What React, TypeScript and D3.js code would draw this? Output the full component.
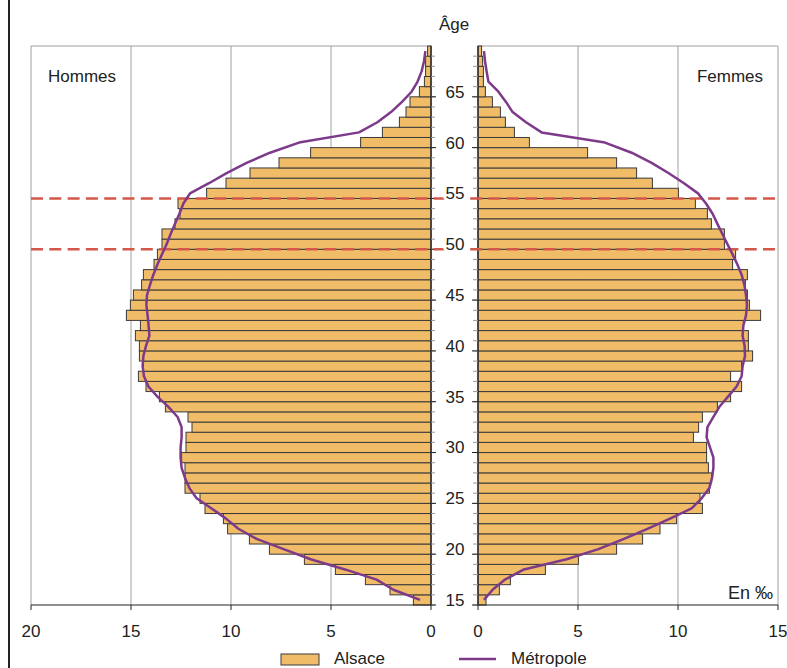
import React from "react";
import * as d3 from "d3";

const ages: number[] = d3.range(15, 70);

const hommesAlsace: number[] = [
  0.88, 2.05, 3.28, 4.78, 6.33, 8.08, 9.08, 10.17, 10.38, 11.3,
  11.55, 12.3, 12.3, 12.3, 12.47, 12.25, 12.25, 11.95, 12.15, 13.28,
  13.58, 14.25, 14.63, 14.38, 14.58, 14.58, 14.78, 14.53, 15.23, 15.03,
  14.88, 14.47, 14.38, 13.85, 13.68, 13.45, 13.45, 12.8, 12.55, 12.65,
  11.22, 10.25, 9.05, 7.6, 6.02, 3.52, 2.43, 1.58, 1.25, 1.05,
  0.58, 0.33, 0.27, 0.27, 0.17,
];

const femmesAlsace: number[] = [
  0.4, 1.07, 1.62, 3.37, 5.02, 6.93, 8.23, 9.1, 9.93, 11.22,
  11.1, 11.57, 11.68, 11.52, 11.43, 11.43, 10.77, 11.03, 11.22, 11.97,
  12.63, 13.18, 12.63, 13.18, 13.73, 13.52, 13.52, 13.27, 14.13, 13.57,
  13.47, 13.37, 13.47, 12.73, 12.88, 12.32, 12.32, 11.67, 11.47, 10.87,
  10.02, 8.72, 7.93, 6.93, 5.48, 2.57, 1.82, 1.37, 1.12, 0.72,
  0.37, 0.27, 0.27, 0.23, 0.18,
];

const hommesMetropole: number[] = [
  0.55, 1.88, 2.72, 4.3, 6.02, 7.37, 8.72, 9.63, 10.25, 10.97,
  11.72, 12.08, 12.3, 12.47, 12.52, 12.52, 12.47, 12.47, 12.67, 13.13,
  13.68, 14.13, 14.35, 14.42, 14.38, 14.25, 14.08, 14.12, 14.17, 14.23,
  14.2, 14.05, 13.88, 13.68, 13.45, 13.22, 13.02, 12.8, 12.58, 12.38,
  12.05, 11.1, 10.22, 9.22, 8.05, 6.6, 3.6, 2.68, 2.0, 1.45,
  0.97, 0.67, 0.47, 0.35, 0.28,
];

const femmesMetropole: number[] = [
  0.3, 0.73, 1.35, 2.3, 4.43, 6.02, 7.3, 8.47, 9.6, 10.68,
  11.18, 11.57, 11.7, 11.77, 11.77, 11.6, 11.43, 11.47, 11.77, 12.07,
  12.5, 12.93, 13.18, 13.23, 13.35, 13.33, 13.23, 13.27, 13.4, 13.45,
  13.4, 13.32, 13.18, 12.97, 12.73, 12.47, 12.22, 11.97, 11.73, 11.4,
  11.0, 10.3, 9.52, 8.68, 7.68, 6.35, 3.18, 2.4, 1.73, 1.4,
  1.02, 0.52, 0.43, 0.35, 0.3,
];

const ageTicks: number[] = [15, 20, 25, 30, 35, 40, 45, 50, 55, 60, 65];
const leftTicks: number[] = [20, 15, 10, 5, 0];
const rightTicks: number[] = [0, 5, 10, 15];
const markedAges: number[] = [50, 55];

const FONT = "'Liberation Sans', Arial, Helvetica, sans-serif";
const BAR = "#F0BC68";
const BAR_STROKE = "#3a3a3a";
const LINE = "#7D3A8A";
const DASH = "#D4574A";
const GRID = "#a0a0a0";

export default function App() {
  const top = 46;
  const bottom = 605;
  const y = d3
    .scaleBand<number>()
    .domain([...ages].reverse())
    .range([top, bottom])
    .padding(0);
  const bw = y.bandwidth();
  const xL = d3.scaleLinear().domain([20, 0]).range([31, 431]);
  const xR = d3.scaleLinear().domain([0, 15]).range([478, 778]);
  const cy = (a: number) => (y(a) as number) + bw / 2;

  const lineL = d3
    .line<number>()
    .x((v) => xL(v))
    .y((_, i) => cy(ages[i]));
  const lineR = d3
    .line<number>()
    .x((v) => xR(v))
    .y((_, i) => cy(ages[i]));

  const boundaries = ages.map((a) => (y(a) as number) + bw);

  return (
    <svg
      width={787}
      height={668}
      style={{ position: "absolute", left: 0, top: 0, background: "#fff" }}
      fontFamily={FONT}
    >
      <rect x={0} y={0} width={787} height={668} fill="#fff" />
      <line x1={9} x2={9} y1={0} y2={668} stroke="#222" strokeWidth={2} />

      {/* grids */}
      {leftTicks.map((t) => (
        <line key={"gl" + t} x1={xL(t)} x2={xL(t)} y1={top} y2={bottom} stroke={GRID} strokeWidth={1} />
      ))}
      {rightTicks.map((t) => (
        <line key={"gr" + t} x1={xR(t)} x2={xR(t)} y1={top} y2={bottom} stroke={GRID} strokeWidth={1} />
      ))}
      <line x1={xL(20)} x2={xL(0)} y1={top} y2={top} stroke={GRID} strokeWidth={1} />
      <line x1={xR(0)} x2={xR(15)} y1={top} y2={top} stroke={GRID} strokeWidth={1} />

      {/* bars */}
      {ages.map((a, i) => (
        <rect
          key={"bl" + a}
          x={xL(hommesAlsace[i])}
          y={y(a)}
          width={xL(0) - xL(hommesAlsace[i])}
          height={bw}
          fill={BAR}
          stroke={BAR_STROKE}
          strokeWidth={1}
        />
      ))}
      {ages.map((a, i) => (
        <rect
          key={"br" + a}
          x={xR(0)}
          y={y(a)}
          width={xR(femmesAlsace[i]) - xR(0)}
          height={bw}
          fill={BAR}
          stroke={BAR_STROKE}
          strokeWidth={1}
        />
      ))}

      {/* center axes */}
      <line x1={xL(0)} x2={xL(0)} y1={top} y2={bottom} stroke="#222" strokeWidth={1.2} />
      <line x1={xR(0)} x2={xR(0)} y1={top} y2={bottom} stroke="#222" strokeWidth={1.2} />
      {boundaries.map((b, i) => (
        <g key={"tk" + i}>
          <line x1={xL(0)} x2={xL(0) + 4} y1={b} y2={b} stroke="#999" strokeWidth={1} />
          <line x1={xR(0) - 5} x2={xR(0)} y1={b} y2={b} stroke="#999" strokeWidth={1} />
        </g>
      ))}
      {ageTicks.map((a) => (
        <g key={"mt" + a}>
          <line x1={xL(0)} x2={xL(0) + 5} y1={(y(a) as number) + bw} y2={(y(a) as number) + bw} stroke="#222" strokeWidth={1} />
          <line x1={xR(0) - 6} x2={xR(0)} y1={(y(a) as number) + bw} y2={(y(a) as number) + bw} stroke="#222" strokeWidth={1} />
        </g>
      ))}

      {/* dashed marks */}
      {markedAges.map((a) => (
        <line
          key={"d" + a}
          x1={xL(20)}
          x2={xR(15)}
          y1={(y(a) as number) + bw}
          y2={(y(a) as number) + bw}
          stroke={DASH}
          strokeWidth={2.5}
          strokeDasharray="12,6.3"
        />
      ))}

      {/* métropole lines */}
      <path d={lineL(hommesMetropole) || ""} fill="none" stroke={LINE} strokeWidth={2.5} strokeLinejoin="round" />
      <path d={lineR(femmesMetropole) || ""} fill="none" stroke={LINE} strokeWidth={2.5} strokeLinejoin="round" />

      {/* age labels */}
      {ageTicks.map((a) => (
        <text
          key={"al" + a}
          x={455}
          y={cy(a) + 6}
          textAnchor="middle"
          fontSize={17}
          fill="#222"
          stroke="#fff"
          strokeWidth={6}
          paintOrder="stroke"
        >
          {a}
        </text>
      ))}
      <text x={454} y={30} textAnchor="middle" fontSize={17} fill="#222">
        Âge
      </text>

      {/* bottom axes */}
      <line x1={xL(20)} x2={xL(0)} y1={bottom} y2={bottom} stroke="#222" strokeWidth={1.2} />
      <line x1={xR(0)} x2={xR(15)} y1={bottom} y2={bottom} stroke="#222" strokeWidth={1.2} />
      {leftTicks.map((t) => (
        <g key={"lt" + t}>
          <line x1={xL(t)} x2={xL(t)} y1={bottom} y2={bottom + 5} stroke="#222" strokeWidth={1} />
          <text x={xL(t)} y={637} textAnchor="middle" fontSize={17} fill="#222">
            {t}
          </text>
        </g>
      ))}
      {rightTicks.map((t) => (
        <g key={"rt" + t}>
          <line x1={xR(t)} x2={xR(t)} y1={bottom} y2={bottom + 5} stroke="#222" strokeWidth={1} />
          <text x={xR(t)} y={637} textAnchor="middle" fontSize={17} fill="#222">
            {t}
          </text>
        </g>
      ))}

      <text x={82} y={82} textAnchor="middle" fontSize={17} fill="#222">Hommes</text>
      <text x={730} y={82} textAnchor="middle" fontSize={17} fill="#222">Femmes</text>
      <text x={773} y={599} textAnchor="end" fontSize={18} fill="#222">En ‰</text>

      {/* legend */}
      <rect x={281} y={654} width={38} height={11} fill={BAR} stroke={BAR_STROKE} strokeWidth={1} />
      <text x={334} y={664} fontSize={17} fill="#222">Alsace</text>
      <line x1={459} x2={496} y1={659} y2={659} stroke={LINE} strokeWidth={2.5} />
      <text x={511} y={664} fontSize={17} fill="#222">Métropole</text>
    </svg>
  );
}
